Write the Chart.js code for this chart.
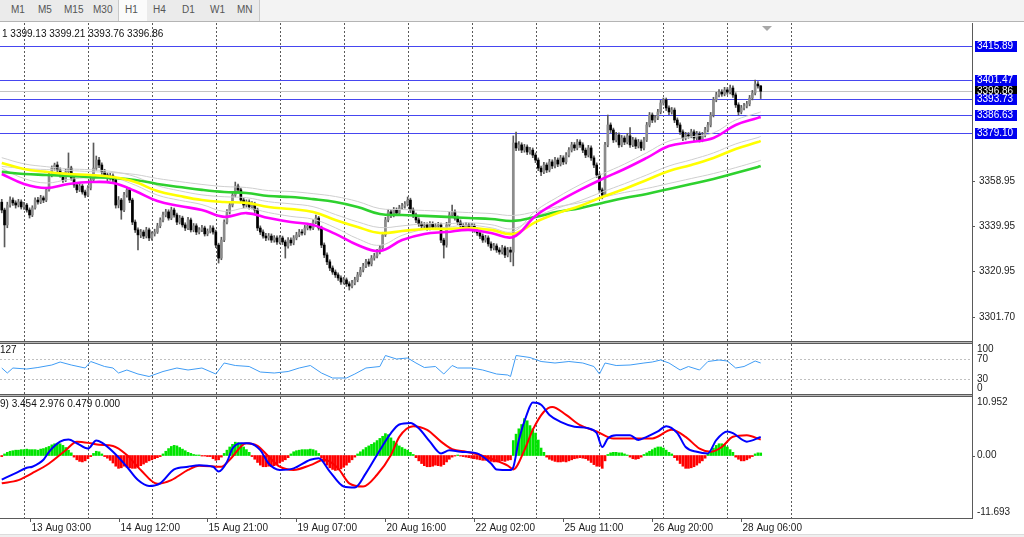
<!DOCTYPE html>
<html><head><meta charset="utf-8">
<script src="https://cdn.jsdelivr.net/npm/chart.js@4.4.1/dist/chart.umd.min.js"></script>
<style>
html,body{margin:0;padding:0;background:#fff;width:1024px;height:537px;overflow:hidden;font-family:"Liberation Sans",Arial,sans-serif;}
.abs{position:absolute;}
#toolbar{left:0;top:0;width:1024px;height:22px;background:#f3f3f3;border-bottom:1px solid #b4b4b4;box-sizing:border-box;}
#tbgroup{left:0;top:0;width:260px;height:21px;background:#ebebeb;border-right:1px solid #c8c8c8;box-sizing:border-box;}
#tbsel{left:118px;top:0;width:29px;height:21px;background:#fbfbfb;border-left:1px solid #c8c8c8;box-sizing:border-box;}
.tb{top:4px;font-size:10px;line-height:12px;color:#555;}
.txt{font-size:10px;line-height:12px;color:#111;white-space:nowrap;}
canvas{position:absolute;left:0;}
</style></head>
<body>
<div id="toolbar" class="abs"></div>
<div id="tbgroup" class="abs"></div>
<div id="tbsel" class="abs"></div>
<span class="abs tb" style="left:11px">M1</span>
<span class="abs tb" style="left:38px">M5</span>
<span class="abs tb" style="left:64px">M15</span>
<span class="abs tb" style="left:93px">M30</span>
<span class="abs tb" style="left:125px">H1</span>
<span class="abs tb" style="left:153px">H4</span>
<span class="abs tb" style="left:182px">D1</span>
<span class="abs tb" style="left:210px">W1</span>
<span class="abs tb" style="left:237px">MN</span>

<canvas id="cMain" width="1024" height="318" style="top:23px"></canvas>
<canvas id="cRsi" width="1024" height="50" style="top:344px"></canvas>
<canvas id="cMacd" width="1024" height="140" style="top:397px"></canvas>

<div class="abs" style="left:0;top:341px;width:972px;height:1px;background:#5a5a5a"></div>
<div class="abs" style="left:0;top:342px;width:972px;height:1px;background:#b8b8b8"></div>
<div class="abs" style="left:0;top:343px;width:972px;height:1px;background:#5a5a5a"></div>
<div class="abs" style="left:0;top:394px;width:972px;height:1px;background:#5a5a5a"></div>
<div class="abs" style="left:0;top:395px;width:972px;height:1px;background:#b8b8b8"></div>
<div class="abs" style="left:0;top:396px;width:972px;height:1px;background:#5a5a5a"></div>
<div class="abs" style="left:972px;top:23px;width:1px;height:496px;background:#5a5a5a"></div>
<div class="abs" style="left:0;top:534px;width:1024px;height:3px;background:#efefef;border-top:1px solid #dcdcdc;box-sizing:border-box"></div>
<div class="abs" style="left:762px;top:26px;width:0;height:0;border-left:5px solid transparent;border-right:5px solid transparent;border-top:5px solid #a8a8a8"></div>

<div class="abs txt" style="left:2px;top:28px">1 3399.13 3399.21 3393.76 3396.86</div>
<div class="abs txt" style="left:0px;top:344px">127</div>
<div class="abs txt" style="left:0px;top:398px">9) 3.454 2.976 0.479 0.000</div>

<script>
// ---------------- DATA ----------------
const closes = [
3346.7,3340.4,3348.8,3350.9,3349.7,3348.8,3350.1,3348.0,3348.8,3346.7,
3344.6,3347.6,3350.9,3350.1,3351.8,3350.9,3355.2,3361.5,3364.4,3365.7,
3363.6,3361.5,3359.4,3362.8,3364.4,3360.2,3357.3,3355.2,3356.8,3354.3,
3353.0,3356.0,3359.4,3364.4,3367.8,3365.7,3362.8,3361.5,3360.2,3361.1,
3359.4,3348.8,3350.9,3346.7,3353.0,3355.2,3350.9,3341.6,3338.3,3336.2,
3337.4,3335.7,3338.3,3334.9,3336.6,3337.4,3340.0,3342.5,3344.6,3345.9,
3343.3,3346.7,3344.6,3341.6,3343.3,3340.4,3339.1,3342.5,3338.3,3340.0,
3337.4,3338.3,3339.1,3336.6,3337.8,3339.1,3337.4,3331.9,3326.4,3334.0,
3341.6,3345.9,3348.8,3353.0,3356.8,3355.2,3350.9,3348.8,3350.1,3348.0,
3349.2,3346.7,3339.1,3337.4,3335.7,3334.9,3335.7,3334.0,3334.9,3333.2,
3334.9,3333.2,3331.5,3334.0,3332.8,3334.9,3336.2,3337.4,3337.0,3339.1,
3340.0,3339.1,3341.6,3343.3,3339.1,3331.9,3327.7,3324.8,3322.2,3320.5,
3319.3,3318.0,3316.3,3317.2,3315.5,3314.6,3315.9,3317.2,3319.3,3321.4,
3323.1,3324.8,3323.9,3326.4,3327.3,3329.0,3330.7,3336.2,3342.5,3345.9,
3344.6,3346.7,3345.4,3347.6,3348.4,3349.2,3350.9,3346.7,3344.6,3342.5,
3340.8,3340.0,3340.4,3339.1,3340.8,3339.5,3340.0,3340.4,3334.0,3331.9,
3340.4,3344.6,3345.9,3343.3,3341.6,3340.0,3339.1,3340.4,3339.1,3340.0,
3338.3,3337.0,3335.7,3334.0,3334.9,3332.4,3330.7,3331.5,3329.8,3329.0,
3330.7,3327.7,3329.8,3328.9,3375.0,3372.9,3374.2,3372.0,3373.3,3371.2,
3372.0,3369.9,3367.8,3364.4,3362.8,3365.7,3363.6,3367.0,3365.3,3367.8,
3366.1,3368.7,3367.0,3369.9,3372.0,3374.2,3372.9,3375.4,3374.2,3372.0,
3369.9,3372.9,3368.7,3365.7,3361.5,3355.2,3353.0,3374.2,3382.6,3380.5,
3376.3,3378.4,3374.2,3377.1,3375.4,3378.0,3374.2,3376.3,3373.7,3375.4,
3372.9,3376.3,3382.6,3386.8,3384.7,3385.6,3388.1,3391.9,3393.2,3389.8,
3388.1,3388.9,3384.7,3382.6,3379.7,3377.1,3378.4,3378.0,3379.7,3377.1,
3378.8,3376.3,3378.4,3380.5,3382.6,3386.8,3393.2,3395.3,3396.5,3395.7,
3397.4,3396.5,3398.2,3395.3,3391.1,3388.1,3389.8,3390.6,3391.5,3394.0,
3396.1,3399.9,3399.1,3396.86];

const opens = [
3350.0,3346.7,3340.4,3348.8,3350.9,3349.7,3348.8,3350.1,3348.0,3348.8,
3346.7,3344.6,3347.6,3350.9,3350.1,3351.8,3350.9,3355.2,3361.5,3364.4,
3365.7,3363.6,3361.5,3359.4,3362.8,3364.4,3360.2,3357.3,3355.2,3356.8,
3354.3,3353.0,3356.0,3359.4,3364.4,3367.8,3365.7,3362.8,3361.5,3360.2,
3361.1,3359.4,3348.8,3350.9,3346.7,3353.0,3355.2,3350.9,3341.6,3338.3,
3336.2,3337.4,3335.7,3338.3,3334.9,3336.6,3337.4,3340.0,3342.5,3344.6,
3345.9,3343.3,3346.7,3344.6,3341.6,3343.3,3340.4,3339.1,3342.5,3338.3,
3340.0,3337.4,3338.3,3339.1,3336.6,3337.8,3339.1,3337.4,3331.9,3326.4,
3334.0,3341.6,3345.9,3348.8,3353.0,3356.8,3355.2,3350.9,3348.8,3350.1,
3348.0,3349.2,3346.7,3339.1,3337.4,3335.7,3334.9,3335.7,3334.0,3334.9,
3333.2,3334.9,3333.2,3331.5,3334.0,3332.8,3334.9,3336.2,3337.4,3337.0,
3339.1,3340.0,3339.1,3341.6,3343.3,3339.1,3331.9,3327.7,3324.8,3322.2,
3320.5,3319.3,3318.0,3316.3,3317.2,3315.5,3314.6,3315.9,3317.2,3319.3,
3321.4,3323.1,3324.8,3323.9,3326.4,3327.3,3329.0,3330.7,3336.2,3342.5,
3345.9,3344.6,3346.7,3345.4,3347.6,3348.4,3349.2,3350.9,3346.7,3344.6,
3342.5,3340.8,3340.0,3340.4,3339.1,3340.8,3339.5,3340.0,3340.4,3334.0,
3331.9,3340.4,3344.6,3345.9,3343.3,3341.6,3340.0,3339.1,3340.4,3339.1,
3340.0,3338.3,3337.0,3335.7,3334.0,3334.9,3332.4,3330.7,3331.5,3329.8,
3329.0,3330.7,3327.7,3329.8,3328.9,3375.0,3372.9,3374.2,3372.0,3373.3,
3371.2,3372.0,3369.9,3367.8,3364.4,3362.8,3365.7,3363.6,3367.0,3365.3,
3367.8,3366.1,3368.7,3367.0,3369.9,3372.0,3374.2,3372.9,3375.4,3374.2,
3372.0,3369.9,3372.9,3368.7,3365.7,3361.5,3355.2,3353.0,3374.2,3382.6,
3380.5,3376.3,3378.4,3374.2,3377.1,3375.4,3378.0,3374.2,3376.3,3373.7,
3375.4,3372.9,3376.3,3382.6,3386.8,3384.7,3385.6,3388.1,3391.9,3393.2,
3389.8,3388.1,3388.9,3384.7,3382.6,3379.7,3377.1,3378.4,3378.0,3379.7,
3377.1,3378.8,3376.3,3378.4,3380.5,3382.6,3386.8,3393.2,3395.3,3396.5,
3395.7,3397.4,3396.5,3398.2,3395.3,3391.1,3388.1,3389.8,3390.6,3391.5,
3394.0,3396.1,3399.9,3399.13];

const highs = [
3351.2,3347.5,3350.0,3352.3,3351.8,3350.6,3351.2,3351.0,3349.9,3349.5,
3347.6,3348.5,3351.8,3352.0,3352.9,3352.6,3356.3,3362.6,3365.3,3366.5,
3367.0,3364.5,3362.3,3363.9,3370.8,3365.2,3361.1,3358.1,3357.9,3357.5,
3355.1,3357.0,3360.3,3375.0,3369.5,3368.9,3366.6,3363.9,3362.4,3362.2,
3362.0,3360.2,3352.4,3351.6,3354.2,3356.4,3356.0,3351.7,3342.5,3339.2,
3338.5,3338.2,3339.4,3339.1,3337.5,3338.6,3341.1,3343.4,3345.8,3347.0,
3346.8,3347.9,3347.5,3345.4,3344.4,3344.1,3341.3,3343.6,3343.3,3341.0,
3340.9,3339.3,3340.2,3339.9,3338.7,3340.1,3340.0,3338.2,3332.7,3335.2,
3342.6,3346.9,3349.9,3354.1,3358.5,3357.6,3356.0,3351.8,3351.0,3351.0,
3350.3,3350.0,3347.5,3340.0,3338.3,3336.8,3336.8,3336.6,3335.9,3335.8,
3335.9,3335.7,3334.0,3335.1,3334.9,3335.9,3337.3,3338.5,3338.4,3340.2,
3341.0,3341.0,3342.7,3344.6,3344.0,3339.9,3332.8,3328.6,3325.7,3323.1,
3321.4,3320.2,3318.9,3318.3,3318.0,3316.4,3317.0,3318.3,3320.4,3322.5,
3324.2,3325.9,3326.0,3327.5,3328.4,3330.1,3331.8,3337.3,3343.6,3347.0,
3346.9,3347.8,3347.6,3348.7,3349.5,3350.3,3352.2,3351.7,3347.6,3345.4,
3343.4,3341.8,3341.4,3341.3,3341.8,3341.7,3341.1,3341.5,3341.2,3334.8,
3341.5,3345.7,3348.8,3346.8,3344.2,3342.5,3341.0,3341.5,3341.2,3341.0,
3340.9,3339.2,3337.9,3336.6,3336.0,3335.8,3333.3,3332.6,3332.4,3330.8,
3331.8,3331.5,3330.9,3331.0,3378.0,3379.6,3375.6,3375.1,3374.4,3374.2,
3373.2,3372.9,3370.8,3368.7,3365.3,3366.8,3366.6,3368.1,3367.9,3368.9,
3368.7,3369.8,3369.6,3371.0,3373.1,3375.3,3375.2,3376.5,3376.3,3375.1,
3372.9,3374.0,3373.8,3369.6,3366.6,3362.3,3356.0,3375.3,3386.8,3383.5,
3381.3,3379.5,3379.3,3378.2,3378.0,3379.1,3381.5,3377.4,3377.2,3376.5,
3376.3,3377.4,3383.7,3387.9,3387.7,3386.7,3389.2,3393.0,3394.0,3394.0,
3390.7,3390.0,3389.8,3385.6,3383.5,3380.6,3379.5,3379.4,3380.8,3380.6,
3379.9,3379.7,3379.5,3381.6,3383.7,3387.9,3394.3,3396.4,3397.6,3397.5,
3398.5,3398.4,3399.5,3399.1,3396.2,3392.0,3390.9,3391.7,3392.6,3395.1,
3397.2,3401.6,3400.9,3399.21];

const lows = [
3345.5,3331.1,3339.2,3347.9,3348.6,3347.5,3348.0,3347.1,3346.9,3345.8,
3343.3,3343.9,3347.0,3349.2,3349.4,3349.8,3350.2,3354.6,3360.7,3363.5,
3362.8,3360.6,3358.3,3358.7,3362.0,3359.3,3356.2,3354.0,3354.5,3353.4,
3352.0,3352.3,3355.2,3358.8,3363.5,3364.6,3361.7,3360.5,3359.1,3359.3,
3358.4,3347.5,3347.6,3342.8,3346.0,3352.1,3349.8,3340.5,3337.2,3329.8,
3335.0,3334.6,3334.9,3333.8,3334.0,3335.7,3336.8,3339.2,3341.7,3343.8,
3342.4,3342.6,3343.7,3340.5,3340.8,3339.5,3338.0,3338.4,3337.4,3337.5,
3336.3,3336.6,3337.5,3335.7,3335.8,3337.0,3336.5,3330.8,3324.3,3325.7,
3333.3,3340.8,3345.0,3348.0,3352.2,3354.3,3349.9,3347.7,3347.9,3347.1,
3347.2,3345.6,3338.0,3336.3,3334.8,3333.8,3334.0,3333.0,3333.1,3332.2,
3332.4,3332.1,3326.4,3330.6,3331.7,3332.0,3334.1,3335.4,3336.1,3336.2,
3338.3,3338.2,3338.4,3340.9,3338.2,3330.8,3326.6,3323.6,3321.1,3319.5,
3318.2,3317.0,3315.3,3315.4,3314.4,3312.9,3313.8,3315.1,3316.4,3318.6,
3320.6,3322.3,3322.9,3323.1,3325.5,3326.5,3328.2,3330.0,3335.5,3341.7,
3343.5,3343.8,3344.3,3344.6,3346.8,3347.5,3348.4,3345.6,3343.5,3341.4,
3339.8,3339.0,3339.1,3338.2,3338.3,3338.6,3338.6,3339.1,3332.9,3326.4,
3331.0,3339.6,3343.8,3342.4,3340.6,3339.0,3338.1,3338.3,3338.1,3338.3,
3337.3,3336.0,3334.6,3333.0,3333.1,3331.4,3329.6,3329.8,3328.8,3328.0,
3328.1,3326.6,3326.9,3324.8,3323.1,3371.8,3371.9,3370.9,3371.1,3370.1,
3370.3,3368.8,3366.7,3363.3,3361.2,3362.0,3362.5,3362.8,3364.2,3364.5,
3365.0,3365.3,3365.9,3366.2,3369.1,3371.2,3371.8,3372.1,3373.1,3370.9,
3368.8,3369.1,3367.6,3364.6,3360.4,3354.1,3351.4,3352.3,3373.4,3379.4,
3375.2,3375.5,3373.1,3373.4,3374.3,3374.6,3373.1,3373.4,3372.6,3372.9,
3371.8,3372.1,3375.6,3381.8,3383.6,3383.8,3384.8,3387.3,3391.0,3388.7,
3387.0,3387.2,3383.6,3381.5,3378.6,3376.0,3376.3,3377.0,3377.2,3376.0,
3376.3,3375.4,3375.5,3377.6,3379.7,3381.8,3386.0,3392.4,3394.5,3394.7,
3394.9,3395.5,3395.7,3394.2,3390.0,3386.8,3387.3,3389.0,3389.8,3390.7,
3393.2,3395.3,3398.2,3393.76];

// moving averages, sampled at bar indices
const maIdx = [0,8,16,24,32,40,48,56,64,72,80,88,96,104,112,120,128,136,144,152,160,168,176,184,192,200,208,216,224,232,240,248,256,264,272,273];
const maFast = [3361.9,3357.7,3356.0,3357.7,3358.5,3358.1,3354.7,3350.5,3348.4,3346.7,3343.8,3345.4,3343.3,3341.6,3340.4,3336.6,3331.9,3329.4,3334.0,3336.6,3337.4,3338.3,3337.0,3335.3,3344.2,3350.1,3355.2,3359.8,3364.0,3368.7,3373.7,3375.4,3377.1,3382.6,3385.6,3386.0];
const maMid = [3366.6,3364.0,3362.8,3361.9,3361.5,3360.6,3358.5,3354.7,3352.6,3350.9,3350.1,3349.7,3348.0,3347.1,3345.9,3342.5,3339.5,3337.0,3337.8,3338.7,3338.7,3339.1,3338.3,3336.6,3341.6,3345.4,3348.4,3352.2,3355.6,3359.4,3363.2,3365.7,3368.7,3372.5,3375.4,3375.9];
const maSlow = [3362.8,3361.9,3361.5,3361.1,3360.6,3360.2,3359.4,3357.7,3356.4,3355.2,3354.3,3353.9,3352.6,3352.2,3351.3,3350.1,3348.0,3345.0,3344.6,3344.2,3343.8,3343.3,3342.9,3342.1,3343.8,3345.9,3347.5,3349.7,3351.8,3353.5,3355.6,3357.7,3359.8,3362.3,3364.9,3365.3];
const grayFast = [3364.3,3360.0,3358.1,3359.6,3360.4,3360.3,3357.2,3353.0,3350.8,3349.0,3346.1,3347.5,3345.6,3344.0,3342.8,3339.2,3334.6,3331.8,3336.0,3338.5,3339.4,3340.3,3339.2,3337.6,3346.3,3352.2,3357.4,3361.9,3366.1,3370.9,3375.8,3377.6,3379.3,3384.7,3387.7,3388.1];
const grayMid = [3368.8,3366.2,3365.0,3364.1,3363.7,3362.9,3360.8,3357.0,3354.8,3353.1,3352.3,3351.9,3350.2,3349.3,3348.1,3344.8,3341.7,3339.3,3340.0,3340.9,3340.9,3341.3,3340.5,3338.8,3343.8,3347.5,3350.6,3354.3,3357.8,3361.5,3365.3,3367.9,3370.8,3374.6,3377.3,3377.8];
const graySlow = [3365.1,3364.2,3363.8,3363.4,3362.9,3362.5,3361.7,3360.0,3358.7,3357.5,3356.6,3356.2,3354.9,3354.5,3353.6,3352.4,3350.3,3347.3,3346.9,3346.5,3346.1,3345.6,3345.2,3344.4,3346.0,3348.1,3349.8,3352.0,3354.1,3355.8,3357.9,3360.0,3362.1,3364.6,3367.3,3367.7];

// horizontal levels and price axis
const levelPrices = [3415.89, 3401.47, 3393.73, 3386.63, 3379.10];
const levelLabels = ['3415.89','3401.47','3393.73','3386.63','3379.10'];
const bidPrice = 3396.86;
const bidLabel = '3396.86';
const priceTicks = [3358.95, 3339.95, 3320.95, 3301.70];
const priceTickLabels = ['3358.95','3339.95','3320.95','3301.70'];

// RSI
const rsiIdx = [0,2,4,9,13,18,21,25,30,32,37,40,42,45,49,53,58,63,67,72,77,80,84,89,93,98,103,107,111,115,119,124,127,131,136,138,142,146,149,152,156,159,162,164,169,173,178,182,183,185,190,194,199,204,209,213,215,217,221,226,231,234,237,240,244,247,251,254,258,261,264,267,271,273];
const rsiVals = [52,42,52,50,53,58,64,58,52,65,55,52,42,48,40,35,45,52,48,52,40,62,57,55,44,42,45,52,57,42,32,32,40,52,55,77,70,72,62,53,55,40,57,52,52,48,40,38,35,77,73,65,62,65,62,55,40,62,57,58,62,64,68,62,48,55,48,65,68,66,52,55,66,62];
const rsiTicks = [100, 70, 30, 0];
const rsiLevels = [70, 30];

// MACD
const macdIdx = [0,5,9,11,15,17,21,24,27,31,34,36,40,45,49,53,57,62,67,71,76,78,81,83,86,89,93,96,100,105,111,114,118,123,127,131,136,140,143,147,150,154,158,161,165,171,176,178,183,184,186,189,191,194,197,201,206,211,214,216,218,221,226,229,232,236,239,243,246,250,254,257,261,263,268,273];
const macdVals = [-4.5,-3.3,-2.3,-2.1,-0.8,0.7,2.6,3.0,2.3,1.3,2.8,2.4,0.7,-2.1,-4.6,-5.7,-5.2,-2.6,-2.1,-1.8,-2.1,-3.0,-1.2,1.3,2.3,2.3,1.0,-1.5,-2.7,-2.4,-0.8,-0.5,-3.0,-5.8,-6.0,-3.3,1.0,4.2,5.8,6.1,5.1,2.6,0.4,1.0,0.7,0.4,-1.5,-2.6,-2.7,-2.2,2.9,7.9,9.9,9.5,7.6,6.3,5.4,5.1,4.2,1.6,3.2,3.8,3.8,2.9,3.5,4.5,5.5,4.2,1.6,0.7,0.4,2.9,4.5,4.2,2.6,3.454];
const sigIdx = [0,6,11,17,23,27,32,35,40,45,50,56,61,67,71,79,82,88,92,96,100,105,111,116,121,125,130,135,140,143,148,153,158,162,167,172,177,182,184,188,191,195,198,203,208,214,220,227,234,241,246,251,255,259,263,268,273];
const sigVals = [-5.2,-4.6,-3.3,-1.5,1.0,2.6,2.3,2.0,1.8,0.1,-2.7,-5.3,-4.6,-2.7,-1.9,-2.1,-0.8,2.3,1.8,-0.2,-2.1,-2.7,-1.8,-0.8,-2.4,-5.2,-5.8,-3.6,0.1,3.5,5.5,4.8,2.6,1.2,0.7,0.1,-0.8,-1.9,-2.6,1.0,4.8,8.2,9.1,7.6,5.7,4.5,3.2,3.2,3.2,4.8,3.5,1.3,0.7,1.6,3.5,3.8,2.976];
const hist = [
-0.2,0.3,0.6,0.8,0.9,1.0,1.0,1.1,1.1,1.2,
1.1,1.1,1.1,1.0,1.2,1.3,1.5,1.7,2.0,2.2,
2.3,2.2,1.9,1.5,1.0,0.5,-0.3,-0.8,-1.1,-1.2,
-1.0,-0.6,-0.2,0.4,0.8,0.7,0.3,-0.2,-0.5,-0.9,
-1.4,-2.0,-2.4,-2.3,-2.0,-2.2,-2.3,-2.4,-2.4,-2.2,
-1.9,-1.6,-1.3,-1.0,-0.8,-0.6,-0.4,-0.2,0.3,0.8,
1.3,1.7,1.9,1.8,1.5,1.2,0.9,0.6,0.4,0.2,
0.1,0.1,-0.1,-0.1,-0.2,-0.2,-0.6,-0.9,-0.8,-0.3,
0.4,1.0,1.6,2.1,2.5,2.4,2.1,1.6,1.1,0.6,
-0.2,-0.7,-1.3,-1.8,-2.1,-2.1,-2.0,-2.1,-1.9,-1.7,
-1.4,-1.1,-0.8,-0.4,0.3,0.7,0.9,1.0,1.1,1.1,
1.1,1.2,1.1,0.9,0.4,-0.5,-1.2,-1.8,-2.3,-2.6,
-2.8,-2.7,-2.5,-2.2,-1.8,-1.3,-0.8,-0.3,0.3,0.7,
1.1,1.5,1.8,2.1,2.4,2.8,3.2,3.6,4.1,3.9,
3.3,2.7,2.2,1.8,1.5,1.2,1.0,0.6,0.2,-0.4,
-1.0,-1.5,-1.9,-2.1,-2.1,-2.0,-1.8,-1.9,-2.0,-1.7,
-1.2,-0.7,-0.3,-0.1,0.1,-0.1,-0.2,-0.3,-0.4,-0.5,
-0.6,-0.7,-0.8,-0.9,-0.9,-1.0,-1.1,-1.2,-1.2,-1.1,
-1.0,-1.1,-0.9,-0.8,2.8,4.0,5.0,5.8,6.9,6.5,
5.6,5.0,4.2,2.9,1.4,0.6,-0.3,-0.7,-0.9,-1.1,
-1.2,-1.2,-1.1,-1.2,-1.0,-0.8,-0.6,-0.5,-0.4,-0.5,
-0.6,-0.9,-1.3,-1.7,-2.0,-2.0,-2.4,-1.0,0.2,0.5,
0.6,0.6,0.5,0.5,0.3,0.1,-0.3,-0.6,-0.7,-0.6,
-0.3,0.2,0.5,0.8,1.1,1.4,1.6,1.6,1.4,1.0,
0.6,0.3,-0.4,-0.9,-1.5,-2.0,-2.4,-2.4,-2.3,-2.1,
-1.8,-1.4,-1.0,-0.5,0.3,0.8,1.4,1.9,2.2,2.2,
2.0,1.6,1.1,0.6,-0.3,-0.7,-1.0,-1.0,-0.8,-0.5,
-0.2,0.3,0.5,0.479];
const macdTicks = [10.952, 0, -11.693];
const macdTickLabels = ['10.952','0.00','-11.693'];

// time axis (bar indices)
const gridIdx = [8,31,54,77,100,123,146,169,192,215,238,261,284];
const timeIdx = [10,42,74,106,138,170,202,234,266];
const timeLabels = ['13 Aug 03:00','14 Aug 12:00','15 Aug 21:00','19 Aug 07:00','20 Aug 16:00','22 Aug 02:00','25 Aug 11:00','26 Aug 20:00','28 Aug 06:00'];

// ---------------- RENDER ----------------
const FONT = '10px "Liberation Sans", Arial, sans-serif';
const X_MIN = -0.633, X_MAX = 349.0;
const barIdx = closes.map((_, i) => i);
const pts = (ix, vals) => ix.map((i, k) => ({x: i, y: vals[k]}));
const xScale = () => ({type: 'linear', min: X_MIN, max: X_MAX, offset: false, grace: 0, display: false, grid: {offset: false}});

function drawVGrid(chart) {
  const {ctx, chartArea: a, scales: {x}} = chart;
  ctx.save();
  ctx.strokeStyle = '#5a5a5a'; ctx.lineWidth = 1; ctx.setLineDash([2, 2]);
  gridIdx.forEach(i => {
    const px = Math.round(x.getPixelForValue(i)) + 0.5;
    if (px < a.left || px > a.right) return;
    ctx.beginPath(); ctx.moveTo(px, a.top); ctx.lineTo(px, a.bottom); ctx.stroke();
  });
  ctx.restore();
}
function hLine(chart, y, color, dash) {
  const {ctx, chartArea: a} = chart;
  const py = Math.round(y) + 0.5;
  ctx.save(); ctx.strokeStyle = color; ctx.lineWidth = 1; ctx.setLineDash(dash || []);
  ctx.beginPath(); ctx.moveTo(a.left, py); ctx.lineTo(a.right, py); ctx.stroke(); ctx.restore();
}

const mainDeco = {
  id: 'mainDeco',
  beforeDatasetsDraw(chart) {
    const y = chart.scales.y;
    drawVGrid(chart);
    hLine(chart, y.getPixelForValue(bidPrice), '#c4c4c4');
    levelPrices.forEach(p => hLine(chart, y.getPixelForValue(p), '#4646f0'));
  },
  afterDraw(chart) {
    const {ctx, chartArea: a, scales: {y}} = chart;
    ctx.save(); ctx.font = FONT; ctx.textBaseline = 'middle'; ctx.textAlign = 'left';
    ctx.strokeStyle = '#5a5a5a'; ctx.fillStyle = '#222';
    priceTicks.forEach((v, k) => {
      const py = Math.round(y.getPixelForValue(v)) + 0.5;
      ctx.beginPath(); ctx.moveTo(a.right, py); ctx.lineTo(a.right + 3, py); ctx.stroke();
      ctx.fillText(priceTickLabels[k], a.right + 7, py);
    });
    const box = (v, txt, bg) => {
      const py = Math.round(y.getPixelForValue(v));
      ctx.fillStyle = bg; ctx.fillRect(a.right + 3, py - 5, 42, 11);
      ctx.fillStyle = '#fff'; ctx.fillText(txt, a.right + 5, py + 0.5);
    };
    box(bidPrice, bidLabel, '#000');
    levelPrices.forEach((v, k) => box(v, levelLabels[k], '#0000f0'));
    ctx.restore();
  }
};

const bull = i => closes[i] >= opens[i];
new Chart(document.getElementById('cMain'), {
  type: 'line',
  data: { datasets: [
    {type: 'line', data: pts(maIdx, grayFast), borderColor: '#cfcfcf', borderWidth: 1, pointRadius: 0, tension: 0.4, order: 3},
    {type: 'line', data: pts(maIdx, grayMid), borderColor: '#cfcfcf', borderWidth: 1, pointRadius: 0, tension: 0.4, order: 3},
    {type: 'line', data: pts(maIdx, graySlow), borderColor: '#cfcfcf', borderWidth: 1, pointRadius: 0, tension: 0.4, order: 3},
    {type: 'bar', data: barIdx.map(i => ({x: i, y: [lows[i], highs[i]]})), backgroundColor: '#5a5a5a', barThickness: 1, grouped: false, order: 6},
    {type: 'bar', data: barIdx.map(i => ({x: i, y: [opens[i], closes[i]]})), backgroundColor: barIdx.map(i => bull(i) ? '#8c8c8c' : '#000000'), barThickness: 2, grouped: false, minBarLength: 1, order: 5},
    {type: 'line', data: pts(maIdx, maSlow), borderColor: '#2ed12e', borderWidth: 2.6, pointRadius: 0, tension: 0.4, order: 2},
    {type: 'line', data: pts(maIdx, maMid), borderColor: '#ffff00', borderWidth: 2.6, pointRadius: 0, tension: 0.4, order: 1},
    {type: 'line', data: pts(maIdx, maFast), borderColor: '#ff00ff', borderWidth: 2.6, pointRadius: 0, tension: 0.4, order: 0}
  ]},
  options: {
    responsive: false, animation: false, events: [],
    layout: {padding: {left: 0, right: 52, top: 0, bottom: 0}},
    plugins: {legend: {display: false}, tooltip: {enabled: false}},
    scales: {
      x: xScale(),
      y: {type: 'linear', min: 3291.38, max: 3425.67, display: false}
    }
  },
  plugins: [mainDeco]
});

function clampLabels(chart, vals, labels, tickMarks) {
  const {ctx, chartArea: a, scales: {y}} = chart;
  ctx.save(); ctx.font = FONT; ctx.textBaseline = 'middle'; ctx.textAlign = 'left';
  ctx.fillStyle = '#222'; ctx.strokeStyle = '#5a5a5a';
  vals.forEach((v, k) => {
    const raw = y.getPixelForValue(v);
    const py = Math.min(Math.max(raw, a.top + 5.5), a.bottom - 5.5);
    if (tickMarks && raw > a.top + 2 && raw < a.bottom - 2) {
      const t = Math.round(raw) + 0.5;
      ctx.beginPath(); ctx.moveTo(a.right, t); ctx.lineTo(a.right + 3, t); ctx.stroke();
    }
    ctx.fillText(labels[k], a.right + 5, py);
  });
  ctx.restore();
}

new Chart(document.getElementById('cRsi'), {
  type: 'line',
  data: { datasets: [
    {data: pts(rsiIdx, rsiVals), borderColor: '#3f9cf5', borderWidth: 1, pointRadius: 0, tension: 0}
  ]},
  options: {
    responsive: false, animation: false, events: [],
    layout: {padding: {left: 0, right: 52, top: 0, bottom: 0}},
    plugins: {legend: {display: false}, tooltip: {enabled: false}},
    scales: {
      x: xScale(),
      y: {type: 'linear', min: 0, max: 100, display: false}
    }
  },
  plugins: [{
    id: 'rsiDeco',
    beforeDatasetsDraw(chart) {
      drawVGrid(chart);
      rsiLevels.forEach(v => hLine(chart, chart.scales.y.getPixelForValue(v), '#c0c0c0', [2, 2]));
    },
    afterDraw(chart) { clampLabels(chart, rsiTicks, rsiTicks.map(String), false); }
  }]
});

new Chart(document.getElementById('cMacd'), {
  type: 'line',
  data: { datasets: [
    {type: 'bar', data: barIdx.map(i => ({x: i, y: hist[i]})), backgroundColor: barIdx.map(i => hist[i] >= 0 ? '#00e400' : '#ff0000'), barThickness: 2, grouped: false, order: 3},
    {type: 'line', data: pts(sigIdx, sigVals), borderColor: '#ff0000', borderWidth: 2, pointRadius: 0, cubicInterpolationMode: 'monotone', order: 1},
    {type: 'line', data: pts(macdIdx, macdVals), borderColor: '#0000ff', borderWidth: 2, pointRadius: 0, cubicInterpolationMode: 'monotone', order: 0}
  ]},
  options: {
    responsive: false, animation: false, events: [],
    layout: {padding: {left: 0, right: 52, top: 0, bottom: 19}},
    plugins: {legend: {display: false}, tooltip: {enabled: false}},
    scales: {
      x: xScale(),
      y: {type: 'linear', min: -11.693, max: 10.952, display: false}
    }
  },
  plugins: [{
    id: 'macdDeco',
    beforeDatasetsDraw(chart) { drawVGrid(chart); },
    afterDraw(chart) {
      const {ctx, chartArea: a, scales: {x}} = chart;
      clampLabels(chart, macdTicks, macdTickLabels, true);
      ctx.save();
      ctx.strokeStyle = '#5a5a5a'; ctx.lineWidth = 1;
      ctx.beginPath(); ctx.moveTo(0, a.bottom + 0.5); ctx.lineTo(a.right, a.bottom + 0.5); ctx.stroke();
      ctx.font = FONT; ctx.textBaseline = 'middle'; ctx.textAlign = 'left'; ctx.fillStyle = '#222';
      timeIdx.forEach((i, k) => {
        const px = Math.round(x.getPixelForValue(i)) + 0.5;
        ctx.beginPath(); ctx.moveTo(px, a.bottom); ctx.lineTo(px, a.bottom + 4); ctx.stroke();
        ctx.fillText(timeLabels[k], px + 1, a.bottom + 10);
      });
      ctx.restore();
    }
  }]
});
</script>
</body></html>
